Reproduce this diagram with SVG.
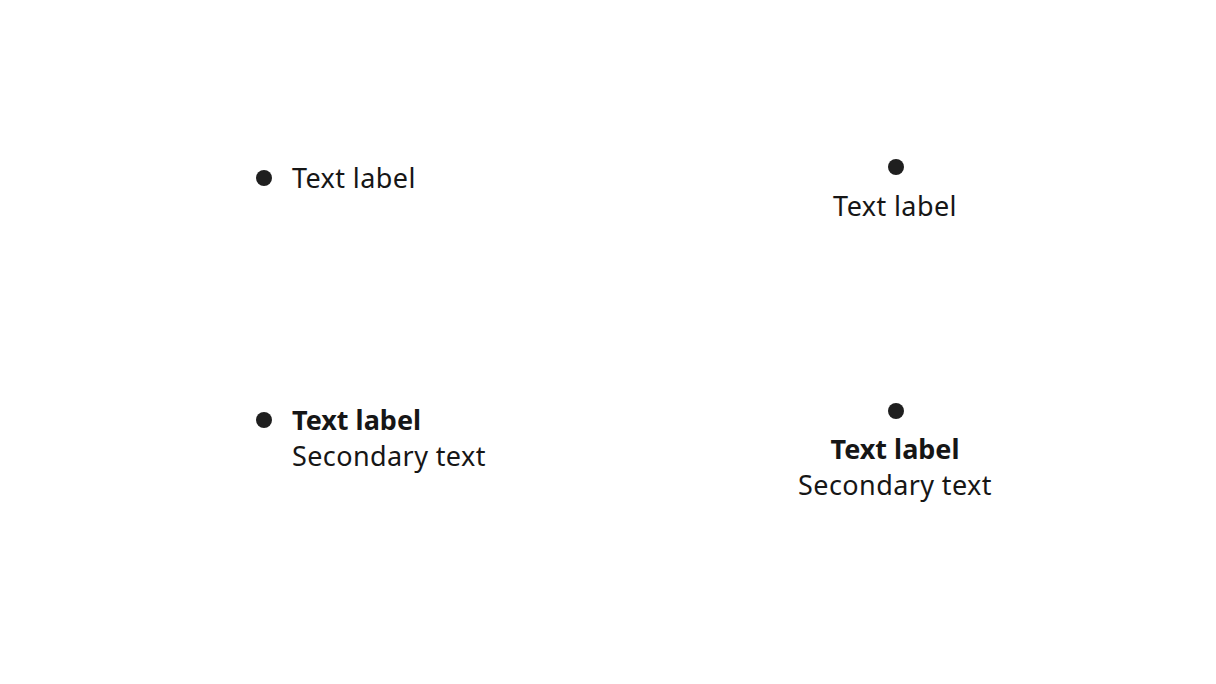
<svg xmlns="http://www.w3.org/2000/svg" width="1216" height="684" viewBox="0 0 1216 684">
<style>
.t{font-family:"Noto Sans","Liberation Sans",sans-serif;font-size:27px;fill:#161616;letter-spacing:0.4px}
.b{font-weight:bold;letter-spacing:0px}
.m{text-anchor:middle}
.d{fill:#1f1f1f}
</style>
<rect width="1216" height="684" fill="#ffffff"/>
<g id="node-1">
<circle class="d" cx="264" cy="178" r="8"/>
<text class="t" x="292" y="188">Text label</text>
</g>
<g id="node-2">
<circle class="d" cx="896" cy="167" r="8"/>
<text class="t m" x="895" y="216">Text label</text>
</g>
<g id="node-3">
<circle class="d" cx="264" cy="420" r="8"/>
<text class="t b" x="292" y="430">Text label</text>
<text class="t" x="292" y="466">Secondary text</text>
</g>
<g id="node-4">
<circle class="d" cx="896" cy="411" r="8"/>
<text class="t b m" x="895" y="459">Text label</text>
<text class="t m" x="895" y="495">Secondary text</text>
</g>
<g id="connectors"></g>
</svg>
